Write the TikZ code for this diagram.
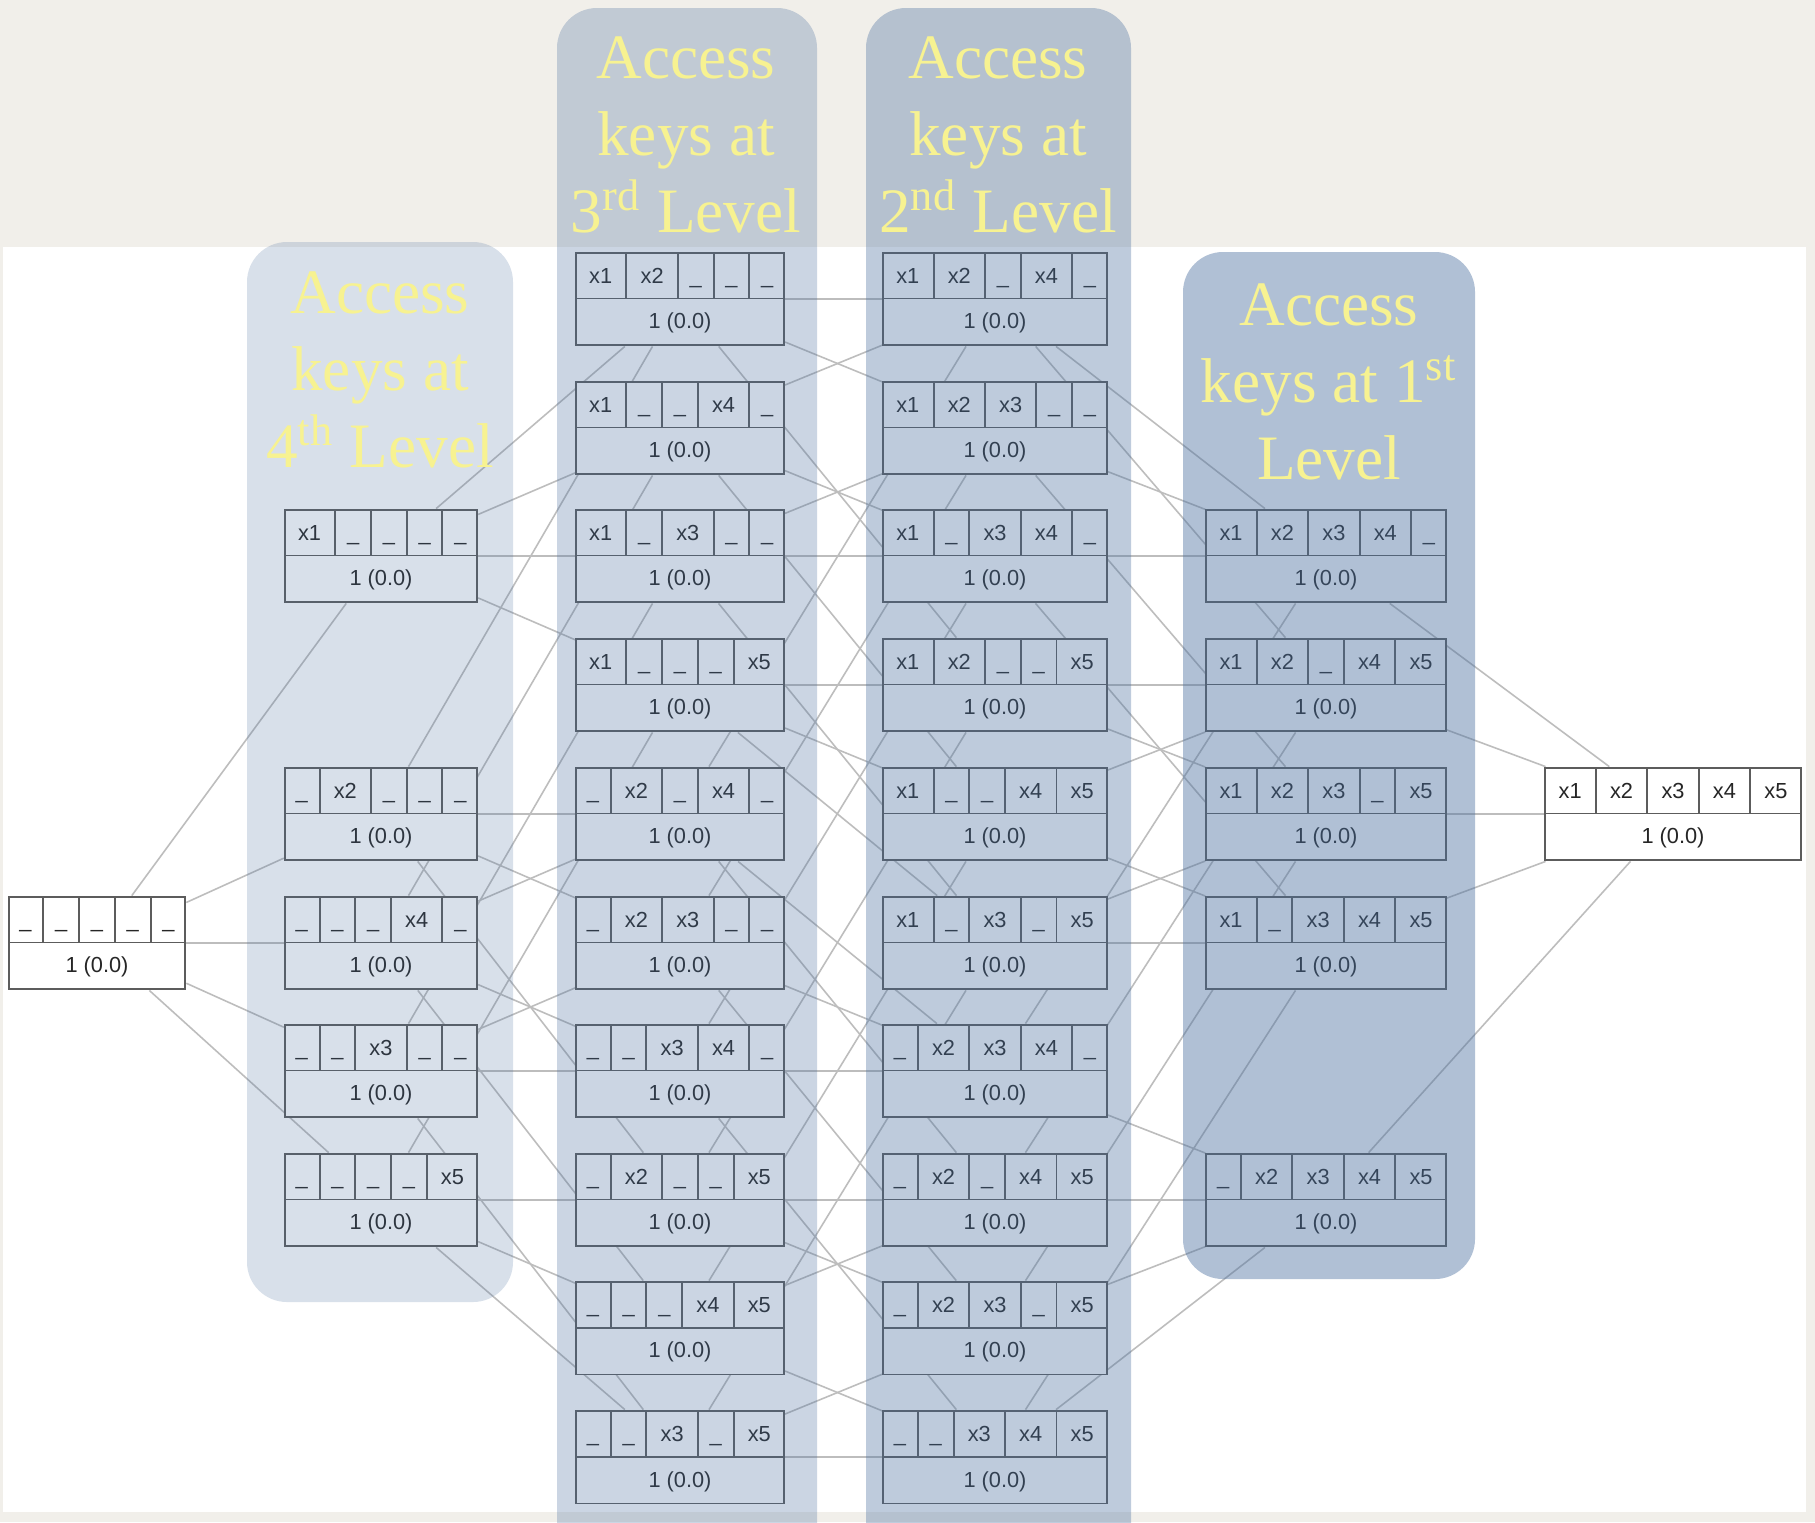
\documentclass[tikz,border=0pt]{standalone}
\usepackage{fontspec}
\setmainfont{Liberation Serif}
\newfontfamily\recfont{Liberation Sans}
\usetikzlibrary{shapes.multipart}

\definecolor{paper}{HTML}{F1EFEA}
\definecolor{bandblue}{RGB}{74,111,159}
\definecolor{keyyellow}{HTML}{F7F291}
\definecolor{recline}{HTML}{5C5C5C}
\definecolor{edgegray}{HTML}{BDBDBD}

\pgfdeclarelayer{back}
\pgfdeclarelayer{edges}
\pgfdeclarelayer{front}
\pgfsetlayers{back,edges,main,front}

% one cell of the key row: '-' gives an empty slot, a digit gives x<digit>
\newcommand{\cellsep}{{\color{recline}\vrule height 2.95mm depth 1.45mm width 0.55pt}}
\newcommand{\keycell}[1]{\ifx-#1\makebox[3.38mm]{\_}\else\makebox[4.95mm]{x#1}\fi}
\newcommand{\keyrow}[5]{\keycell{#1}\cellsep\keycell{#2}\cellsep\keycell{#3}\cellsep\keycell{#4}\cellsep\keycell{#5}}
\newcommand{\reccount}{\rule[-1.55mm]{0pt}{4.5mm}1 (0.0)}

\tikzset{
  rec/.style={rectangle split, rectangle split parts=2, draw=recline, line width=0.55pt,
    fill=white, inner sep=0pt, text=black!85, font=\recfont\fontsize{6.2}{7}\selectfont},
  link/.style={draw=edgegray, line width=0.45pt},
  band/.style={fill=bandblue, rounded corners=4mm},
  head/.style={text=keyyellow, align=center, font=\fontsize{18}{22}\selectfont},
}

\begin{document}
\begin{tikzpicture}[x=0.1mm, y=-0.1mm]
\useasboundingbox (0,0) rectangle (1815,1522);

\begin{pgfonlayer}{back}
\fill[paper] (0,0) rectangle (1815,1522);
\fill[white] (3,247) rectangle (1806,1512);
\end{pgfonlayer}

% empty key and full key
\node[rec] (knone) at (97,943) {\keyrow-----\nodepart{two}\reccount};
\node[rec] (k12345) at (1673,814) {\keyrow12345\nodepart{two}\reccount};

% one key
\node[rec] (k1) at (381,556) {\keyrow1----\nodepart{two}\reccount};
\node[rec] (k2) at (381,814) {\keyrow-2---\nodepart{two}\reccount};
\node[rec] (k4) at (381,943) {\keyrow---4-\nodepart{two}\reccount};
\node[rec] (k3) at (381,1071) {\keyrow--3--\nodepart{two}\reccount};
\node[rec] (k5) at (381,1200) {\keyrow----5\nodepart{two}\reccount};

% two keys
\node[rec] (k12) at (680,299) {\keyrow12---\nodepart{two}\reccount};
\node[rec] (k14) at (680,428) {\keyrow1--4-\nodepart{two}\reccount};
\node[rec] (k13) at (680,556) {\keyrow1-3--\nodepart{two}\reccount};
\node[rec] (k15) at (680,685) {\keyrow1---5\nodepart{two}\reccount};
\node[rec] (k24) at (680,814) {\keyrow-2-4-\nodepart{two}\reccount};
\node[rec] (k23) at (680,943) {\keyrow-23--\nodepart{two}\reccount};
\node[rec] (k34) at (680,1071) {\keyrow--34-\nodepart{two}\reccount};
\node[rec] (k25) at (680,1200) {\keyrow-2--5\nodepart{two}\reccount};
\node[rec] (k45) at (680,1328) {\keyrow---45\nodepart{two}\reccount};
\node[rec] (k35) at (680,1457) {\keyrow--3-5\nodepart{two}\reccount};

% three keys
\node[rec] (k124) at (995,299) {\keyrow12-4-\nodepart{two}\reccount};
\node[rec] (k123) at (995,428) {\keyrow123--\nodepart{two}\reccount};
\node[rec] (k134) at (995,556) {\keyrow1-34-\nodepart{two}\reccount};
\node[rec] (k125) at (995,685) {\keyrow12--5\nodepart{two}\reccount};
\node[rec] (k145) at (995,814) {\keyrow1--45\nodepart{two}\reccount};
\node[rec] (k135) at (995,943) {\keyrow1-3-5\nodepart{two}\reccount};
\node[rec] (k234) at (995,1071) {\keyrow-234-\nodepart{two}\reccount};
\node[rec] (k245) at (995,1200) {\keyrow-2-45\nodepart{two}\reccount};
\node[rec] (k235) at (995,1328) {\keyrow-23-5\nodepart{two}\reccount};
\node[rec] (k345) at (995,1457) {\keyrow--345\nodepart{two}\reccount};

% four keys
\node[rec] (k1234) at (1326,556) {\keyrow1234-\nodepart{two}\reccount};
\node[rec] (k1245) at (1326,685) {\keyrow12-45\nodepart{two}\reccount};
\node[rec] (k1235) at (1326,814) {\keyrow123-5\nodepart{two}\reccount};
\node[rec] (k1345) at (1326,943) {\keyrow1-345\nodepart{two}\reccount};
\node[rec] (k2345) at (1326,1200) {\keyrow-2345\nodepart{two}\reccount};

% every key is linked to the keys with one more x
\begin{pgfonlayer}{edges}
\foreach \a in {1,...,5}
  \draw[link] (knone) -- (k\a);
\foreach \a/\b in {1/2,1/3,1/4,1/5,2/3,2/4,2/5,3/4,3/5,4/5} {
  \draw[link] (k\a) -- (k\a\b);
  \draw[link] (k\b) -- (k\a\b);
}
\foreach \a/\b/\c in {1/2/3,1/2/4,1/2/5,1/3/4,1/3/5,1/4/5,2/3/4,2/3/5,2/4/5,3/4/5} {
  \draw[link] (k\a\b) -- (k\a\b\c);
  \draw[link] (k\a\c) -- (k\a\b\c);
  \draw[link] (k\b\c) -- (k\a\b\c);
}
\foreach \a/\b/\c/\d in {1/2/3/4,1/2/3/5,1/2/4/5,1/3/4/5,2/3/4/5} {
  \draw[link] (k\a\b\c) -- (k\a\b\c\d);
  \draw[link] (k\a\b\d) -- (k\a\b\c\d);
  \draw[link] (k\a\c\d) -- (k\a\b\c\d);
  \draw[link] (k\b\c\d) -- (k\a\b\c\d);
}
\foreach \a in {1234,1235,1245,1345,2345}
  \draw[link] (k\a) -- (k12345);
\end{pgfonlayer}

% shaded level bands with their titles
\begin{pgfonlayer}{front}
\begin{scope}
\clip (0,0) rectangle (1815,1522);
\fill[band, opacity=0.21] (247,242) rectangle (513,1302);
\fill[band, opacity=0.285] (557,8) rectangle (817,1570);
\fill[band, opacity=0.355] (866,8) rectangle (1131,1570);
\fill[band, opacity=0.43] (1183,252) rectangle (1475,1279);
\end{scope}
\node[head] (lev4) at (380,370) {Access\\keys at\\4\textsuperscript{th} Level};
\node[head] (lev3) at (686,135) {Access\\keys at\\3\textsuperscript{rd} Level};
\node[head] (lev2) at (998,135) {Access\\keys at\\2\textsuperscript{nd} Level};
\node[head] (lev1) at (1329,382) {Access\\keys at 1\textsuperscript{st}\\Level};
\end{pgfonlayer}
\end{tikzpicture}
\end{document}
